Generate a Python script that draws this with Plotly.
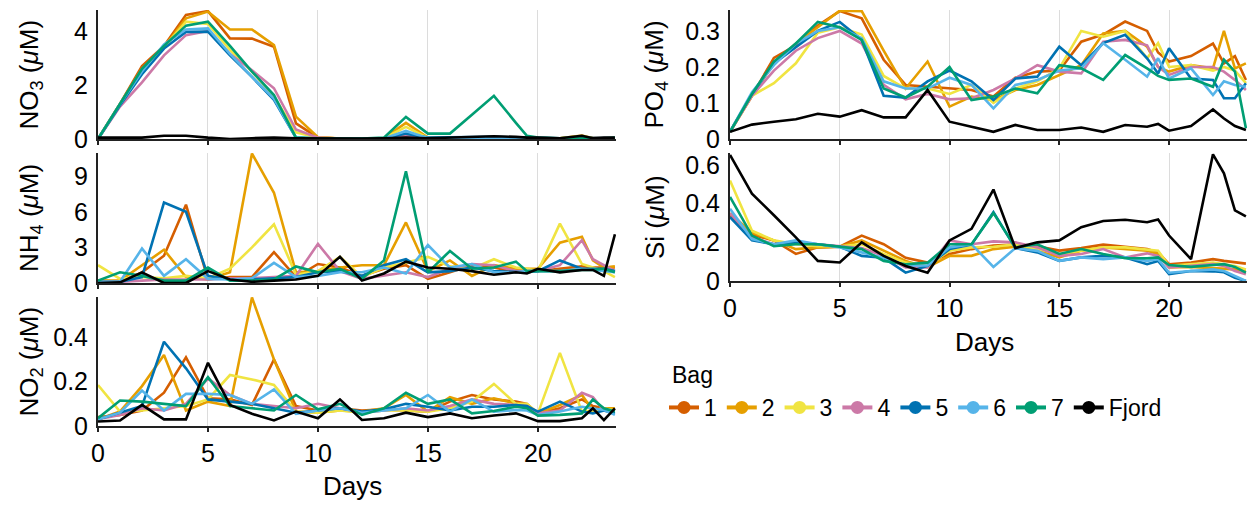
import plotly.graph_objects as go

# Sampling days (daily, with extra half-day samples near the end)
days = sorted(list(range(20)) + [19.5, 20, 21, 22, 22.5, 23, 23.5])

bags = ["1", "2", "3", "4", "5", "6", "7", "Fjord"]
colors = ["#D55E00", "#E69F00", "#F0E442", "#CC79A7",
          "#0072B2", "#56B4E9", "#009E73", "#000000"]

# Nitrate (µM), one row per bag
no3 = [
    [0, 1.3, 2.7, 3.45, 4.6, 4.74, 3.73, 3.72, 3.42, 0.58, 0.05, 0.02, 0.02, 0.02, 0.15, 0.02, 0.02, 0.03, 0.05, 0.05, 0.04, 0.03, 0.02, 0.05, 0.03, 0.03, 0.03],
    [0, 1.3, 2.6, 3.4, 4.47, 4.72, 4.06, 4.06, 3.48, 0.83, 0.07, 0.02, 0.02, 0.03, 0.6, 0.05, 0.03, 0.03, 0.05, 0.05, 0.04, 0.03, 0.03, 0.13, 0.03, 0.03, 0.03],
    [0, 1.25, 2.5, 3.4, 4.35, 4.26, 3.3, 2.5, 1.57, 0.25, 0.05, 0.02, 0.02, 0.03, 0.45, 0.04, 0.03, 0.03, 0.04, 0.04, 0.03, 0.03, 0.03, 0.1, 0.03, 0.03, 0.03],
    [0, 1.2, 2.1, 3.1, 3.85, 4.0, 3.15, 2.55, 1.88, 0.35, 0.05, 0.02, 0.02, 0.02, 0.1, 0.02, 0.02, 0.02, 0.03, 0.03, 0.02, 0.02, 0.02, 0.03, 0.02, 0.02, 0.02],
    [0, 1.25, 2.4, 3.35, 3.97, 3.98, 3.1, 2.3, 1.45, 0.05, 0.02, 0.02, 0.02, 0.02, 0.2, 0.05, 0.06, 0.07, 0.08, 0.06, 0.05, 0.04, 0.03, 0.04, 0.03, 0.03, 0.03],
    [0, 1.3, 2.5, 3.5, 4.06, 4.1, 3.15, 2.3, 1.5, 0.05, 0.02, 0.02, 0.02, 0.02, 0.3, 0.03, 0.03, 0.04, 0.05, 0.04, 0.03, 0.03, 0.02, 0.03, 0.02, 0.02, 0.02],
    [0, 1.3, 2.6, 3.45, 4.2, 4.35, 3.45, 2.5, 1.63, 0.05, 0.02, 0.02, 0.02, 0.05, 0.82, 0.2, 0.2, 0.9, 1.6, 0.6, 0.12, 0.05, 0.03, 0.05, 0.02, 0.03, 0.05],
    [0.05, 0.05, 0.05, 0.12, 0.12, 0.05, 0.0, 0.03, 0.05, 0.03, 0.02, 0.02, 0.02, 0.03, 0.05, 0.03, 0.05, 0.08, 0.1, 0.08, 0.05, 0.05, 0.03, 0.12, 0.03, 0.05, 0.05],
]

# Ammonium (µM)
nh4 = [
    [0.2, 0.1, 0.9, 2.3, 6.6, 0.3, 0.5, 0.5, 2.6, 0.5, 1.6, 1.3, 0.6, 1.2, 1.5, 0.35, 0.9, 1.5, 1.3, 0.9, 0.9, 1.0, 1.2, 1.4, 1.3, 1.3, 1.3],
    [0.2, 0.2, 1.5, 2.8, 0.5, 0.3, 0.9, 10.9, 7.6, 0.9, 1.0, 1.3, 1.5, 1.5, 5.1, 1.0, 1.9, 0.6, 1.5, 1.2, 1.2, 1.2, 3.4, 3.9, 1.9, 1.3, 1.4],
    [1.5, 0.35, 0.5, 0.4, 0.6, 0.4, 1.2, 3.0, 4.95, 0.7, 1.0, 2.2, 0.5, 1.3, 1.7, 2.2, 1.4, 1.2, 2.0, 1.3, 1.2, 1.0, 5.0, 1.6, 1.3, 1.0, 0.5],
    [0.1, 0.1, 0.2, 0.3, 0.3, 0.3, 0.4, 0.4, 0.5, 0.6, 3.3, 1.0, 0.35, 0.6, 0.9, 0.5, 1.2, 1.6, 1.5, 1.0, 1.0, 1.0, 1.5, 3.6, 2.0, 1.5, 1.0],
    [0.1, 0.1, 0.5, 6.77, 6.0, 0.6, 0.3, 0.3, 0.4, 0.5, 0.9, 1.0, 0.6, 1.5, 2.0, 0.9, 1.0, 1.3, 1.0, 0.9, 0.9, 1.0, 1.9, 1.2, 1.2, 1.2, 1.0],
    [0.1, 0.1, 2.9, 0.6, 2.0, 0.35, 0.3, 0.4, 1.7, 0.5, 0.6, 0.9, 0.9, 1.3, 0.8, 3.2, 1.3, 1.6, 0.9, 0.9, 1.0, 1.0, 1.0, 1.2, 1.1, 1.0, 0.9],
    [0.2, 0.9, 0.6, 0.2, 0.2, 1.3, 0.2, 0.2, 0.3, 1.4, 0.9, 1.2, 0.35, 1.9, 9.4, 0.9, 2.7, 1.2, 1.3, 1.8, 1.0, 1.0, 1.0, 1.1, 1.1, 1.2, 0.9],
    [0.0, 0.05, 0.9, 0.0, 0.0, 1.0, 0.3, 0.1, 0.2, 0.3, 0.6, 2.2, 0.2, 0.8, 1.8, 1.3, 1.2, 1.0, 0.7, 0.9, 0.8, 1.2, 0.9, 1.1, 1.1, 0.6, 4.1],
]

# Nitrite (µM)
no2 = [
    [0.04, 0.05, 0.07, 0.15, 0.31, 0.125, 0.12, 0.095, 0.3, 0.09, 0.07, 0.08, 0.07, 0.075, 0.07, 0.065, 0.11, 0.14, 0.12, 0.11, 0.1, 0.057, 0.08, 0.12, 0.09, 0.08, 0.07],
    [0.03, 0.065, 0.18, 0.32, 0.07, 0.11, 0.09, 0.58, 0.3, 0.065, 0.06, 0.07, 0.065, 0.08, 0.14, 0.065, 0.13, 0.1, 0.125, 0.1, 0.09, 0.057, 0.095, 0.14, 0.07, 0.08, 0.08],
    [0.185, 0.065, 0.07, 0.08, 0.09, 0.12, 0.23, 0.21, 0.185, 0.065, 0.06, 0.07, 0.06, 0.07, 0.07, 0.065, 0.08, 0.11, 0.19, 0.1, 0.1, 0.057, 0.33, 0.065, 0.07, 0.08, 0.07],
    [0.03, 0.05, 0.08, 0.07, 0.1, 0.215, 0.14, 0.1, 0.09, 0.08, 0.1, 0.08, 0.06, 0.07, 0.08, 0.07, 0.09, 0.12, 0.1, 0.095, 0.09, 0.057, 0.07, 0.15, 0.13, 0.07, 0.065],
    [0.03, 0.06, 0.09, 0.38, 0.26, 0.12, 0.11, 0.1, 0.08, 0.06, 0.07, 0.08, 0.065, 0.075, 0.1, 0.087, 0.07, 0.087, 0.087, 0.095, 0.09, 0.065, 0.11, 0.065, 0.057, 0.07, 0.057],
    [0.03, 0.06, 0.16, 0.07, 0.145, 0.145, 0.14, 0.1, 0.165, 0.055, 0.07, 0.08, 0.06, 0.07, 0.08, 0.14, 0.065, 0.12, 0.065, 0.072, 0.07, 0.05, 0.065, 0.087, 0.08, 0.072, 0.05],
    [0.035, 0.115, 0.11, 0.1, 0.09, 0.22, 0.09, 0.08, 0.07, 0.14, 0.075, 0.1, 0.05, 0.08, 0.15, 0.1, 0.12, 0.057, 0.068, 0.087, 0.08, 0.047, 0.05, 0.057, 0.12, 0.08, 0.065],
    [0.02, 0.025, 0.095, 0.03, 0.03, 0.285, 0.095, 0.055, 0.025, 0.065, 0.035, 0.12, 0.027, 0.035, 0.06, 0.04, 0.057, 0.035, 0.047, 0.057, 0.04, 0.022, 0.022, 0.035, 0.08, 0.027, 0.08],
]

# Phosphate (µM)
po4 = [
    [0.02, 0.12, 0.225, 0.26, 0.315, 0.355, 0.335, 0.22, 0.15, 0.145, 0.14, 0.136, 0.118, 0.17, 0.187, 0.19, 0.27, 0.29, 0.326, 0.3, 0.24, 0.215, 0.23, 0.265, 0.21, 0.23, 0.164],
    [0.02, 0.12, 0.21, 0.265, 0.31, 0.356, 0.355, 0.245, 0.14, 0.215, 0.09, 0.118, 0.108, 0.136, 0.15, 0.178, 0.205, 0.293, 0.3, 0.256, 0.2, 0.187, 0.205, 0.196, 0.3, 0.196, 0.21],
    [0.02, 0.12, 0.155, 0.21, 0.295, 0.31, 0.29, 0.175, 0.14, 0.14, 0.125, 0.15, 0.1, 0.14, 0.16, 0.196, 0.3, 0.284, 0.3, 0.224, 0.266, 0.2, 0.205, 0.19, 0.2, 0.19, 0.155],
    [0.02, 0.12, 0.19, 0.245, 0.28, 0.3, 0.265, 0.15, 0.11, 0.125, 0.11, 0.113, 0.136, 0.168, 0.205, 0.187, 0.182, 0.27, 0.275, 0.26, 0.2, 0.178, 0.2, 0.2, 0.187, 0.164, 0.136],
    [0.02, 0.125, 0.21, 0.255, 0.3, 0.325, 0.275, 0.12, 0.115, 0.16, 0.19, 0.16, 0.108, 0.168, 0.173, 0.256, 0.205, 0.266, 0.289, 0.224, 0.182, 0.252, 0.168, 0.164, 0.113, 0.113, 0.155],
    [0.02, 0.13, 0.205, 0.265, 0.3, 0.31, 0.28, 0.16, 0.14, 0.14, 0.17, 0.15, 0.085, 0.15, 0.164, 0.19, 0.196, 0.266, 0.22, 0.173, 0.224, 0.168, 0.196, 0.122, 0.16, 0.15, 0.145],
    [0.02, 0.125, 0.215, 0.265, 0.325, 0.31, 0.275, 0.14, 0.115, 0.145, 0.2, 0.108, 0.118, 0.14, 0.127, 0.205, 0.196, 0.164, 0.233, 0.196, 0.175, 0.164, 0.168, 0.145, 0.22, 0.187, 0.03],
    [0.02, 0.04, 0.048, 0.055, 0.07, 0.062, 0.08, 0.06, 0.06, 0.136, 0.048, 0.034, 0.02, 0.039, 0.025, 0.025, 0.032, 0.02, 0.039, 0.034, 0.042, 0.023, 0.036, 0.082, 0.057, 0.036, 0.025],
]

# Silicate (µM)
si = [
    [0.34, 0.24, 0.21, 0.14, 0.174, 0.177, 0.235, 0.19, 0.12, 0.095, 0.14, 0.165, 0.183, 0.188, 0.18, 0.157, 0.17, 0.188, 0.177, 0.165, 0.148, 0.087, 0.096, 0.113, 0.104, 0.096, 0.09],
    [0.35, 0.25, 0.21, 0.165, 0.174, 0.177, 0.21, 0.156, 0.104, 0.07, 0.13, 0.13, 0.165, 0.177, 0.157, 0.122, 0.157, 0.174, 0.165, 0.157, 0.14, 0.07, 0.073, 0.066, 0.06, 0.06, 0.052],
    [0.52, 0.26, 0.21, 0.19, 0.18, 0.18, 0.19, 0.14, 0.095, 0.078, 0.157, 0.174, 0.177, 0.19, 0.165, 0.14, 0.157, 0.174, 0.174, 0.165, 0.157, 0.078, 0.087, 0.096, 0.087, 0.078, 0.06],
    [0.35, 0.226, 0.19, 0.2, 0.19, 0.18, 0.17, 0.13, 0.07, 0.07, 0.21, 0.19, 0.205, 0.2, 0.174, 0.13, 0.14, 0.165, 0.122, 0.143, 0.13, 0.07, 0.078, 0.087, 0.078, 0.052, 0.035],
    [0.33, 0.21, 0.19, 0.2, 0.19, 0.177, 0.13, 0.12, 0.043, 0.078, 0.165, 0.188, 0.356, 0.17, 0.148, 0.104, 0.122, 0.13, 0.122, 0.087, 0.104, 0.035, 0.052, 0.05, 0.045, 0.017, 0.0],
    [0.374, 0.217, 0.19, 0.21, 0.19, 0.174, 0.148, 0.12, 0.08, 0.08, 0.174, 0.19, 0.073, 0.17, 0.156, 0.104, 0.122, 0.113, 0.122, 0.104, 0.113, 0.043, 0.052, 0.06, 0.052, 0.026, 0.0],
    [0.435, 0.235, 0.18, 0.19, 0.19, 0.177, 0.165, 0.104, 0.087, 0.095, 0.19, 0.19, 0.351, 0.174, 0.19, 0.14, 0.165, 0.14, 0.118, 0.118, 0.122, 0.083, 0.073, 0.083, 0.087, 0.073, 0.043],
    [0.652, 0.452, 0.34, 0.226, 0.104, 0.096, 0.2, 0.13, 0.078, 0.043, 0.21, 0.27, 0.473, 0.17, 0.2, 0.21, 0.278, 0.31, 0.317, 0.304, 0.318, 0.235, 0.113, 0.655, 0.557, 0.365, 0.334],
]

W, H = 1258, 507
FONT = "Liberation Sans, Arial, Helvetica, sans-serif"


def px_x(p):
    return p / W


def px_y(p):
    return 1 - p / H


# data, x pixel span, y pixel span, y range, y ticks, y title, x tick labels shown
panels = [
    (no3, (98, 616), (10, 139), [0, 4.78], [0, 2, 4], "NO<sub>3</sub> (<i>μ</i>M)", False),
    (nh4, (98, 616), (153, 283), [0, 10.95], [0, 3, 6, 9], "NH<sub>4</sub> (<i>μ</i>M)", False),
    (no2, (98, 616), (297, 426), [0, 0.582], [0, 0.2, 0.4], "NO<sub>2</sub> (<i>μ</i>M)", True),
    (po4, (730, 1247), (10, 139), [0, 0.358], [0, 0.1, 0.2, 0.3], "PO<sub>4</sub> (<i>μ</i>M)", False),
    (si, (730, 1247), (153, 281), [0, 0.662], [0, 0.2, 0.4, 0.6], "Si (<i>μ</i>M)", True),
]

fig = go.Figure()
layout = dict(
    width=W, height=H,
    margin=dict(l=0, r=0, t=0, b=0),
    paper_bgcolor="white", plot_bgcolor="white",
    font=dict(family=FONT, size=25, color="black"),
    showlegend=True,
    annotations=[],
)

for i, (data, xs, ys, yr, yt, ytitle, show_xlabels) in enumerate(panels):
    n = "" if i == 0 else str(i + 1)
    xa, ya = "x" + n, "y" + n
    for series, name, col in zip(data, bags, colors):
        fig.add_trace(go.Scatter(
            x=days, y=series, xaxis=xa, yaxis=ya, mode="lines",
            line=dict(color=col, width=2.6), name=name, showlegend=False,
            hoverinfo="skip"))
    layout["xaxis" + n] = dict(
        domain=[px_x(xs[0]), px_x(xs[1])], anchor=ya, range=[0, 23.55],
        tickvals=[0, 5, 10, 15, 20], showticklabels=show_xlabels,
        ticks="outside", ticklen=4, tickwidth=1.5, tickcolor="#222",
        showline=True, linecolor="#222", linewidth=2,
        showgrid=True, gridcolor="#dcdcdc", gridwidth=1, zeroline=False,
        tickfont=dict(size=25), automargin=False, fixedrange=True)
    layout["yaxis" + n] = dict(
        domain=[px_y(ys[1]), px_y(ys[0])], anchor=xa, range=yr,
        tickvals=yt, ticks="outside", ticklen=3, tickwidth=1, tickcolor="white",
        showline=True, linecolor="#222", linewidth=2,
        showgrid=False, zeroline=False, tickfont=dict(size=25),
        automargin=False, fixedrange=True)
    tx = 30 if xs[0] < 300 else 655
    layout["annotations"].append(dict(
        text=ytitle, x=px_x(tx), y=px_y((ys[0] + ys[1]) / 2),
        xref="paper", yref="paper", showarrow=False, textangle=-90,
        font=dict(size=26), xanchor="center", yanchor="middle"))

# x-axis titles
for cx, cy in [(352, 486), (984, 342)]:
    layout["annotations"].append(dict(
        text="Days", x=px_x(cx), y=px_y(cy), xref="paper", yref="paper",
        showarrow=False, font=dict(size=26), xanchor="center", yanchor="middle"))

# legend heading
layout["annotations"].append(dict(
    text="Bag", x=px_x(670), y=px_y(375), xref="paper", yref="paper",
    showarrow=False, font=dict(size=23), xanchor="left", yanchor="middle"))

# Legend entries: line with a dot
for name, col in zip(bags, colors):
    fig.add_trace(go.Scatter(
        x=[0], y=[None], mode="lines+markers", name=name,
        line=dict(color=col, width=4), marker=dict(color=col, size=13),
        showlegend=True, hoverinfo="skip"))

layout["legend"] = dict(
    orientation="h", x=px_x(664), y=px_y(386), xanchor="left", yanchor="top",
    font=dict(size=23), itemwidth=30, tracegroupgap=0,
    bgcolor="rgba(0,0,0,0)")

fig.update_layout(**layout)
fig.write_html("out.html")
